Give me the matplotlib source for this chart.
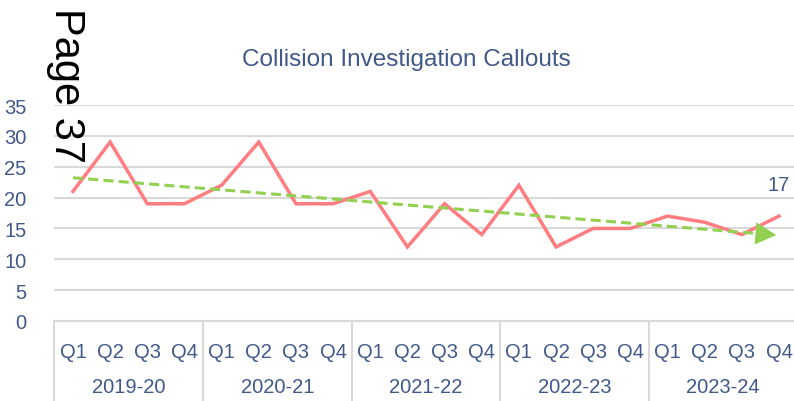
import numpy as np
import matplotlib
matplotlib.use('Agg')
import matplotlib.pyplot as plt
import matplotlib.transforms as mtransforms

plt.rcParams['font.family'] = ['Liberation Sans', 'DejaVu Sans']

TEXT = '#40588A'
LINE = '#FF7C80'
TREND = '#92D050'
GRID = '#D9D9D9'

years = ['2019-20', '2020-21', '2021-22', '2022-23', '2023-24']
quarters = ['Q1', 'Q2', 'Q3', 'Q4']
callouts = [21, 29, 19, 19,
            22, 29, 19, 19,
            21, 12, 19, 14,
            22, 12, 15, 15,
            17, 16, 14, 17]

W, H = 794, 402
fig = plt.figure(figsize=(W / 100, H / 100), dpi=100)
left, right, bottom, top = 54.4, 797.6, 322, 106
ax = fig.add_axes([left / W, (H - bottom) / H, (right - left) / W, (bottom - top) / H])

x = np.arange(len(callouts))
ax.plot(x, callouts, color=LINE, lw=2.5, solid_joinstyle='miter', zorder=3)

# linear trendline
slope, intercept = np.polyfit(x, callouts, 1)
trend = intercept + slope * x
ax.plot([x[0], x[-1] - 0.42], [trend[0], intercept + slope * (x[-1] - 0.42)],
        color=TREND, lw=2.2, ls=(0, (3.3, 1.7)), zorder=4)
ax.annotate('', xy=(x[-1], trend[-1]), xytext=(x[-1] - 0.45, intercept + slope * (x[-1] - 0.45)),
            arrowprops=dict(arrowstyle='-|>,head_length=0.75,head_width=0.4',
                            color=TREND, lw=0, mutation_scale=20), zorder=4)

ax.text(x[-1], callouts[-1] + 3.6, str(callouts[-1]), color=TEXT,
        fontsize=14.5, ha='center', va='bottom')

ax.set_xlim(-0.5, len(callouts) - 0.5)
ax.set_ylim(0, 35)
ax.set_yticks(range(0, 36, 5))
ax.yaxis.grid(True, color=GRID, lw=1.5)
ax.set_axisbelow(True)
for s in ['top', 'right', 'left']:
    ax.spines[s].set_visible(False)
ax.spines['bottom'].set_color(GRID)
ax.spines['bottom'].set_linewidth(1.5)
ax.tick_params(axis='y', length=0, labelsize=14.5, labelcolor=TEXT, pad=20)
ax.tick_params(axis='x', length=0, labelsize=14.5, labelcolor=TEXT, pad=15)
ax.set_xticks(x)
ax.set_xticklabels(quarters * len(years))

trans = mtransforms.blended_transform_factory(ax.transData, ax.transAxes)
depth = -80 / (bottom - top)
for i in range(len(years) + 1):
    ax.plot([i * 4 - 0.5, i * 4 - 0.5], [0, depth], transform=trans,
            color=GRID, lw=1.5, clip_on=False)
for i, yr in enumerate(years):
    ax.text(i * 4 + 1.5, -66 / (bottom - top), yr, transform=trans,
            ha='center', va='center', fontsize=14.5, color=TEXT)

fig.text(406 / W, 1 - 60 / H, 'Collision Investigation Callouts', ha='center', va='center',
         fontsize=17.5, color=TEXT)
fig.text(66 / W, 1 - 86 / H, 'Page 37', rotation=-90, ha='center', va='center',
         fontsize=30, color='black')

fig.savefig('out.png', dpi=100)
